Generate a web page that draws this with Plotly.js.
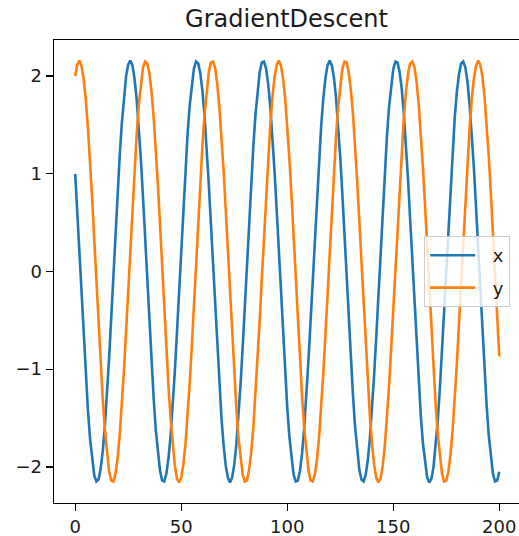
<!DOCTYPE html>
<html>
<head>
<meta charset="utf-8">
<script src="https://cdn.plot.ly/plotly-3.0.1.min.js"></script>
<style>
  html, body { margin: 0; padding: 0; background: #fff; }
  #chart { width: 519px; height: 536px; }
</style>
</head>
<body>
<div id="chart"></div>
<script>
// Values (step index 0..200 is the implicit x)
const seriesX = [
  1.00, 0.60, 0.18, -0.26, -0.68, -1.07, -1.42, -1.71, -1.94, -2.09,
  -2.15, -2.13, -2.02, -1.84, -1.58, -1.25, -0.88, -0.47, -0.04, 0.39,
  0.80, 1.19, 1.52, 1.79, 2.00, 2.12, 2.16, 2.11, 1.97, 1.76,
  1.48, 1.14, 0.75, 0.33, -0.10, -0.53, -0.93, -1.30, -1.62, -1.87,
  -2.04, -2.14, -2.15, -2.07, -1.91, -1.68, -1.38, -1.02, -0.62, -0.20,
  0.24, 0.66, 1.05, 1.41, 1.70, 1.93, 2.08, 2.15, 2.13, 2.03,
  1.85, 1.59, 1.27, 0.89, 0.49, 0.06, -0.37, -0.79, -1.17, -1.51,
  -1.78, -1.99, -2.11, -2.16, -2.11, -1.98, -1.77, -1.49, -1.15, -0.77,
  -0.35, 0.08, 0.51, 0.91, 1.28, 1.60, 1.86, 2.04, 2.14, 2.15,
  2.08, 1.92, 1.69, 1.39, 1.03, 0.64, 0.22, -0.22, -0.64, -1.04,
  -1.39, -1.69, -1.92, -2.08, -2.15, -2.14, -2.04, -1.86, -1.60, -1.28,
  -0.91, -0.51, -0.08, 0.35, 0.77, 1.15, 1.49, 1.77, 1.98, 2.11,
  2.16, 2.11, 1.99, 1.78, 1.51, 1.17, 0.79, 0.37, -0.06, -0.49,
  -0.90, -1.27, -1.59, -1.85, -2.03, -2.13, -2.15, -2.08, -1.93, -1.70,
  -1.40, -1.05, -0.66, -0.23, 0.20, 0.62, 1.02, 1.38, 1.68, 1.91,
  2.07, 2.15, 2.14, 2.04, 1.87, 1.61, 1.30, 0.93, 0.52, 0.10,
  -0.33, -0.75, -1.14, -1.48, -1.76, -1.97, -2.11, -2.16, -2.12, -2.00,
  -1.79, -1.52, -1.19, -0.80, -0.39, 0.04, 0.47, 0.88, 1.25, 1.58,
  1.84, 2.02, 2.13, 2.15, 2.09, 1.94, 1.71, 1.42, 1.07, 0.67,
  0.25, -0.18, -0.60, -1.00, -1.36, -1.67, -1.91, -2.07, -2.15, -2.14,
  -2.05
];
const seriesY = [
  2.00, 2.12, 2.16, 2.10, 1.97, 1.76, 1.47, 1.13, 0.74, 0.32,
  -0.11, -0.53, -0.94, -1.31, -1.62, -1.87, -2.05, -2.14, -2.15, -2.07,
  -1.91, -1.67, -1.37, -1.01, -0.61, -0.19, 0.25, 0.67, 1.06, 1.41,
  1.71, 1.94, 2.09, 2.15, 2.13, 2.03, 1.84, 1.58, 1.26, 0.89,
  0.48, 0.05, -0.38, -0.80, -1.18, -1.51, -1.79, -1.99, -2.12, -2.16,
  -2.11, -1.98, -1.77, -1.49, -1.14, -0.76, -0.34, 0.09, 0.52, 0.92,
  1.29, 1.61, 1.86, 2.04, 2.14, 2.15, 2.08, 1.92, 1.68, 1.38,
  1.03, 0.63, 0.21, -0.23, -0.65, -1.04, -1.40, -1.70, -1.93, -2.08,
  -2.15, -2.14, -2.03, -1.85, -1.60, -1.27, -0.90, -0.50, -0.07, 0.36,
  0.78, 1.16, 1.50, 1.78, 1.99, 2.11, 2.16, 2.11, 1.98, 1.78,
  1.50, 1.16, 0.78, 0.36, -0.07, -0.50, -0.90, -1.28, -1.60, -1.85,
  -2.03, -2.14, -2.15, -2.08, -1.93, -1.70, -1.40, -1.04, -0.65, -0.22,
  0.21, 0.63, 1.03, 1.38, 1.68, 1.92, 2.08, 2.15, 2.14, 2.04,
  1.86, 1.61, 1.29, 0.92, 0.51, 0.09, -0.34, -0.76, -1.15, -1.49,
  -1.77, -1.98, -2.11, -2.16, -2.12, -1.99, -1.79, -1.51, -1.18, -0.79,
  -0.38, 0.05, 0.48, 0.89, 1.26, 1.58, 1.84, 2.03, 2.13, 2.15,
  2.09, 1.94, 1.71, 1.41, 1.06, 0.67, 0.24, -0.19, -0.61, -1.01,
  -1.37, -1.67, -1.91, -2.07, -2.15, -2.14, -2.05, -1.87, -1.62, -1.31,
  -0.94, -0.53, -0.11, 0.32, 0.74, 1.13, 1.47, 1.76, 1.97, 2.10,
  2.16, 2.12, 2.00, 1.80, 1.53, 1.19, 0.81, 0.40, -0.03, -0.46,
  -0.87
];
const seriesNames = ['x', 'y'];
const seriesColors = ['#1f77b4', '#ff7f0e'];
const xTickVals = [0, 50, 100, 150, 200];
const yTickVals = [-2, -1, 0, 1, 2];
const yTickText = ['\u22122', '\u22121', '0', '1', '2'];
const chartTitle = 'GradientDescent';

const traces = [seriesX, seriesY].map((vals, i) => ({
  y: vals,
  type: 'scatter',
  mode: 'lines',
  name: '\u2002\u2009' + seriesNames[i],
  legendgroup: 'g' + i,
  line: { color: seriesColors[i], width: 2.6 }
}));

const font = 'DejaVu Sans, sans-serif';
const layout = {
  width: 519,
  height: 536,
  margin: { l: 54, r: 0, t: 40, b: 33, pad: 0 },
  paper_bgcolor: '#fff',
  plot_bgcolor: '#fff',
  font: { family: font, size: 18, color: '#1a1a1a' },
  title: {
    text: chartTitle,
    font: { family: font, size: 24, color: '#1a1a1a' },
    xref: 'paper', x: 0.5, xanchor: 'center',
    yref: 'container', y: 1 - 19 / 536, yanchor: 'middle'
  },
  showlegend: true,
  legend: {
    x: 0.981, xanchor: 'right',
    y: 0.5, yanchor: 'middle',
    bgcolor: 'rgba(255,255,255,0.8)',
    bordercolor: '#cccccc',
    borderwidth: 1,
    itemwidth: 45,
    font: { family: font, size: 18, color: '#1a1a1a' },
    tracegroupgap: 6
  },
  xaxis: {
    range: [-10, 209.3],
    tickmode: 'array',
    tickvals: xTickVals,
    ticks: 'outside', ticklen: 7, tickwidth: 1.3, tickcolor: '#000',
    showline: true, linecolor: '#000', linewidth: 1.4, mirror: true,
    showgrid: false, zeroline: false,
    tickfont: { family: font, size: 18, color: '#1a1a1a' }
  },
  yaxis: {
    range: [-2.37, 2.37],
    tickmode: 'array',
    tickvals: yTickVals,
    ticktext: yTickText,
    ticks: 'outside', ticklen: 7, tickwidth: 1.3, tickcolor: '#000',
    showline: true, linecolor: '#000', linewidth: 1.4, mirror: false,
    showgrid: false, zeroline: false,
    tickfont: { family: font, size: 18, color: '#1a1a1a' }
  }
};

Plotly.newPlot('chart', traces, layout, { displayModeBar: false, staticPlot: true });
</script>
</body>
</html>
